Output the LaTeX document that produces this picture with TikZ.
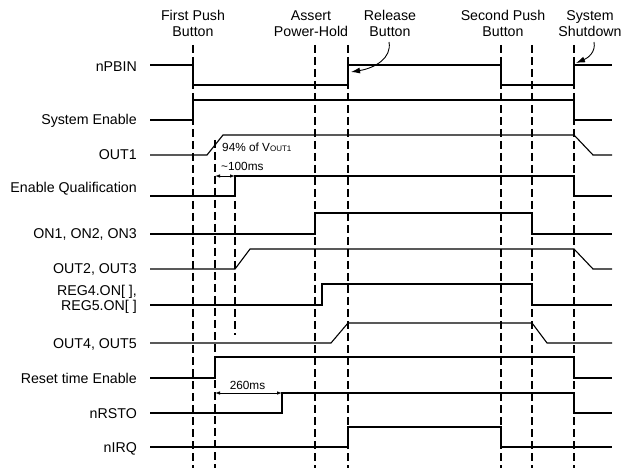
\documentclass[tikz,border=0pt]{standalone}
\usepackage{fontspec}
\setmainfont{Liberation Sans}
\usetikzlibrary{arrows.meta}
\begin{document}
\begin{tikzpicture}[x=1pt,y=-1pt,
  sig/.style={line width=1.1pt,line join=miter},
  evline/.style={line width=2pt,dash pattern=on 8pt off 4pt},
  lbl/.style={anchor=base east,font=\fontsize{14.2}{16}\selectfont,inner sep=0pt},
  toplbl/.style={align=center,anchor=base,font=\fontsize{14.2}{16}\selectfont,inner sep=0pt},
  small/.style={font=\fontsize{11.8}{13}\selectfont,inner sep=0pt},
  dim/.style={line width=0.8pt,{Latex[length=5pt,width=3.5pt]}-{Latex[length=5pt,width=3.5pt]}},
  callout/.style={line width=0.9pt,-{Latex[length=9pt,width=6pt]}}]
\useasboundingbox (0,0) rectangle (622,468);
% event lines
\foreach \x/\t in {193/45,215/140,315/45,348/45,501/45,532/45,574/45}
  \draw[evline] (\x,\t) -- (\x,468);
\draw[evline] (235,177) -- (235,335);
% top labels
\node[toplbl] (e1) at (193,37) {First Push\\Button};
\node[toplbl] (e2) at (311,37) {Assert\\Power-Hold};
\node[toplbl] (e3) at (390,37) {Release\\Button};
\node[toplbl] (e4) at (503,37) {Second Push\\Button};
\node[toplbl] (e5) at (590,37) {System\\Shutdown};
% signal labels
\node[lbl] (l1) at (137,72) {nPBIN};
\node[lbl] (l2) at (137,125) {System Enable};
\node[lbl] (l3) at (137,160) {OUT1};
\node[lbl] (l4) at (137,193) {Enable Qualification};
\node[lbl] (l5) at (137,239) {ON1, ON2, ON3};
\node[lbl] (l6) at (137,274) {OUT2, OUT3};
\node[lbl] (l7a) at (137,295) {REG4.ON[ ],};
\node[lbl] (l7b) at (137,310) {REG5.ON[ ]};
\node[lbl] (l8) at (137,348) {OUT4, OUT5};
\node[lbl] (l9) at (137,383) {Reset time Enable};
\node[lbl] (l10) at (137,418) {nRSTO};
\node[lbl] (l11) at (137,452) {nIRQ};
% signals
\draw[sig] (150,65) -- (193,65) -- (193,85) -- (348,85) -- (348,65) -- (501,65) -- (501,85) -- (574,85) -- (574,65) -- (612,65);
\draw[sig] (150,120) -- (193,120) -- (193,100) -- (574,100) -- (574,120) -- (612,120);
\draw[sig] (150,155) -- (207,155) -- (223,135) -- (574,135) -- (593,155) -- (612,155);
\draw[sig] (150,196) -- (235,196) -- (235,176) -- (574,176) -- (574,196) -- (612,196);
\draw[sig] (150,234) -- (315,234) -- (315,213) -- (532,213) -- (532,234) -- (612,234);
\draw[sig] (150,269) -- (235,269) -- (250,249) -- (574,249) -- (593,269) -- (612,269);
\draw[sig] (150,305) -- (322,305) -- (322,284) -- (532,284) -- (532,305) -- (612,305);
\draw[sig] (150,343) -- (331,343) -- (348,323) -- (532,323) -- (547,343) -- (612,343);
\draw[sig] (150,378) -- (215,378) -- (215,357) -- (574,357) -- (574,378) -- (612,378);
\draw[sig] (150,413) -- (282,413) -- (282,393) -- (574,393) -- (574,413) -- (612,413);
\draw[sig] (150,447) -- (348,447) -- (348,427) -- (501,427) -- (501,447) -- (612,447);
% annotations
\node[small,anchor=base west] (p94) at (222,152) {94\% of V{\fontsize{8}{9}\selectfont OUT1}};
\node[small,anchor=base west] (t100) at (221,171) {\char`~100ms};
\node[small,anchor=base] (t260) at (247.5,389) {260ms};
\coordinate (a1) at (215,176);
\coordinate (a2) at (235,176);
\draw[dim] (a1) -- (a2);
\coordinate (b1) at (215,393);
\coordinate (b2) at (282,393);
\draw[dim] (b1) -- (b2);
\coordinate (r0) at (389,42);
\coordinate (r1) at (351,72);
\draw[callout] (r0) .. controls (392,58) and (375,68) .. (r1);
\coordinate (s0) at (594,42);
\coordinate (s1) at (576,63);
\draw[callout] (s0) .. controls (596,52) and (588,58) .. (s1);
\end{tikzpicture}
\end{document}
